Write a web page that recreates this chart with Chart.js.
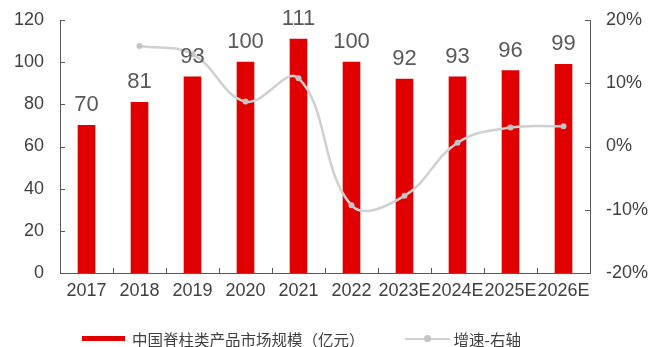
<!DOCTYPE html>
<html>
<head>
<meta charset="utf-8">
<script src="https://cdn.jsdelivr.net/npm/chart.js@4/dist/chart.umd.min.js"></script>
<style>
  body { margin: 0; background: #fff; }
  #wrap { position: relative; width: 651px; height: 347px; }
  #legend { position: absolute; left: 82px; top: 325px; font: 15.5px "Noto Sans CJK SC", sans-serif; color: #404040; white-space: nowrap; }
  #legend span { display: inline-block; vertical-align: middle; }
  .sw-bar { width: 43px; height: 5px; background: #e00000; margin-right: 7px; }
  .sw-line { position: relative; width: 45px; height: 2px; background: #d0d0d0; margin: 0 4px 0 40px; }
  .sw-line i { position: absolute; left: 19px; top: -3px; width: 7px; height: 7px; border-radius: 50%; background: #c4c4c4; }
</style>
</head>
<body>
<div id="wrap">
  <canvas id="chart" width="651" height="347"></canvas>
  <div id="legend">
    <span class="sw-bar"></span><span>中国脊柱类产品市场规模（亿元）</span><span class="sw-line"><i></i></span><span>增速-右轴</span>
  </div>
</div>
<script>
const years = ['2017', '2018', '2019', '2020', '2021', '2022', '2023E', '2024E', '2025E', '2026E'];
const marketSize = [70, 81, 93, 100, 111, 100, 92, 93, 96, 99];
const growth = [null, 15.9, 14.6, 7.1, 10.8, -9.3, -7.8, 0.6, 3.0, 3.2];
const leftTicks = [0, 20, 40, 60, 80, 100, 120];
const rightTicks = [-20, -10, 0, 10, 20];

const axisColor = '#595959';
const textColor = '#404040';
const fontFamily = '"Liberation Sans", Arial, sans-serif';

// value labels above bars + small inward tick marks on all three axes
const extras = {
  id: 'extras',
  afterDatasetsDraw(chart) {
    const ctx = chart.ctx;
    const bars = chart.getDatasetMeta(1).data;
    ctx.save();
    ctx.fillStyle = '#595959';
    ctx.font = '22px ' + fontFamily;
    ctx.textAlign = 'center';
    ctx.textBaseline = 'bottom';
    bars.forEach((bar, i) => {
      ctx.fillText(String(marketSize[i]), bar.x, bar.y - 9);
    });

    const x = chart.scales.x, yl = chart.scales.y, yr = chart.scales.y1;
    ctx.strokeStyle = axisColor;
    ctx.lineWidth = 1;
    ctx.beginPath();
    leftTicks.forEach(v => {
      const py = Math.round(yl.getPixelForValue(v)) + 0.5;
      ctx.moveTo(yl.right, py); ctx.lineTo(yl.right + 5, py);
    });
    rightTicks.forEach(v => {
      const py = Math.round(yr.getPixelForValue(v)) + 0.5;
      ctx.moveTo(yr.left - 5, py); ctx.lineTo(yr.left, py);
    });
    for (let i = 1; i < years.length; i++) {
      const px = Math.round((x.getPixelForValue(i - 1) + x.getPixelForValue(i)) / 2) + 0.5;
      ctx.moveTo(px, x.top); ctx.lineTo(px, x.top - 5);
    }
    ctx.stroke();
    ctx.restore();
  }
};

// fixed plot box: the axes get exact sizes and no extra label padding
const fitY = w => s => { s.width = w; s.paddingTop = 0; s.paddingBottom = 0; };

new Chart(document.getElementById('chart'), {
  data: {
    labels: years,
    datasets: [
      {
        type: 'line',
        label: '增速-右轴',
        data: growth,
        yAxisID: 'y1',
        borderColor: '#d0d0d0',
        borderWidth: 2.5,
        backgroundColor: '#c4c4c4',
        pointRadius: 3,
        pointBorderWidth: 0,
        tension: 0.4,
        order: 0
      },
      {
        type: 'bar',
        label: '中国脊柱类产品市场规模（亿元）',
        data: marketSize,
        yAxisID: 'y',
        backgroundColor: '#e00000',
        barThickness: 17,
        order: 1
      }
    ]
  },
  plugins: [extras],
  options: {
    responsive: false,
    animation: false,
    layout: { padding: { top: 20, left: 0, right: 0, bottom: 0 } },
    plugins: { legend: { display: false }, tooltip: { enabled: false } },
    scales: {
      x: {
        grid: { display: false, drawTicks: false },
        border: { color: axisColor, width: 1 },
        ticks: { color: textColor, padding: 7, font: { size: 18, family: fontFamily }, maxRotation: 0, autoSkip: false },
        afterFit: s => { s.height = 74; s.paddingLeft = 0; s.paddingRight = 0; }
      },
      y: {
        position: 'left',
        min: 0, max: 120,
        afterBuildTicks: s => { s.ticks = leftTicks.map(v => ({ value: v })); },
        grid: { display: false, drawTicks: false },
        border: { color: axisColor, width: 1 },
        ticks: { color: textColor, padding: 16, font: { size: 18, family: fontFamily } },
        afterFit: fitY(60)
      },
      y1: {
        position: 'right',
        min: -20, max: 20,
        afterBuildTicks: s => { s.ticks = rightTicks.map(v => ({ value: v })); },
        grid: { display: false, drawTicks: false },
        border: { color: axisColor, width: 1 },
        ticks: { color: textColor, padding: 16, font: { size: 18, family: fontFamily }, callback: v => v + '%' },
        afterFit: fitY(61)
      }
    }
  }
});
</script>
</body>
</html>
